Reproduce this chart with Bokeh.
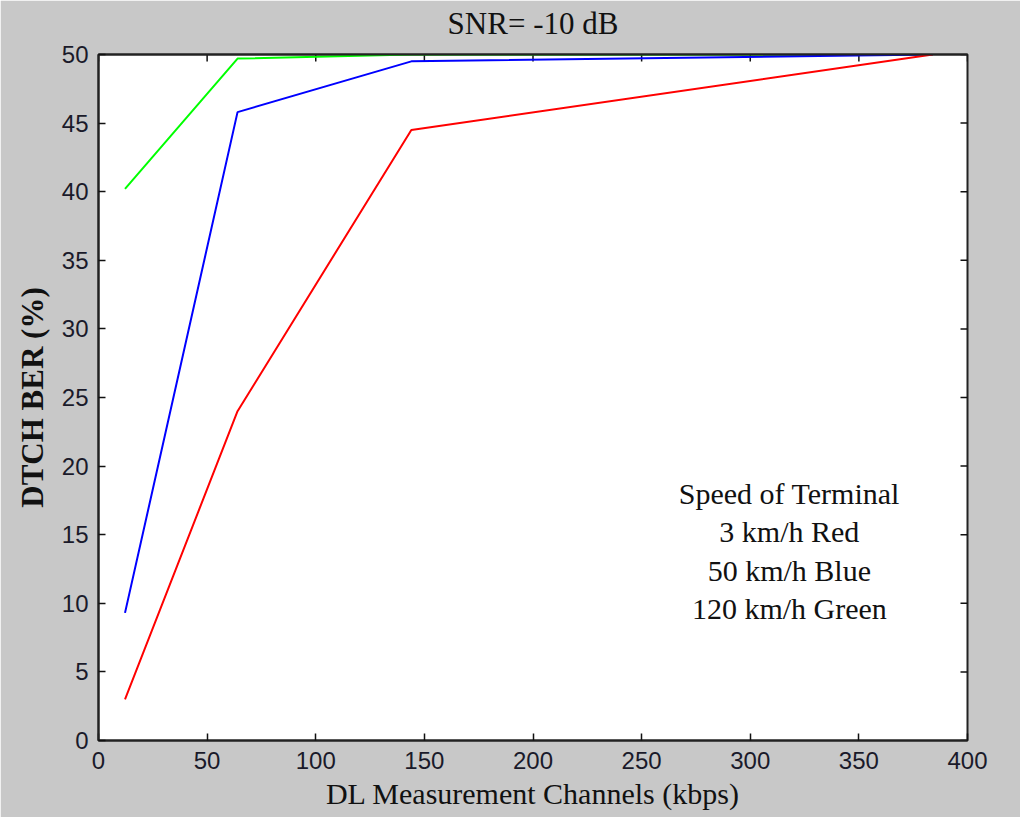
import math
from bokeh.plotting import figure
from bokeh.models import Range1d, SingleIntervalTicker, FixedTicker, Label, LinearAxis
from bokeh.embed import file_html
from bokeh.resources import INLINE

# Data
rates_kbps = [12.2, 64, 144, 384]
ber_3kmh = [3.0, 24.0, 44.5, 50.0]      # red
ber_50kmh = [9.3, 45.8, 49.5, 50.0]     # blue
ber_120kmh = [40.2, 49.7, 50.0, 50.0]   # green

x_ticks = [0, 50, 100, 150, 200, 250, 300, 350, 400]
y_ticks = [0, 5, 10, 15, 20, 25, 30, 35, 40, 45, 50]

title_text = "SNR= -10 dB"
x_label = "DL Measurement Channels (kbps)"
y_label = "DTCH BER (%)"
note_lines = ["Speed of Terminal", "3 km/h Red", "50 km/h Blue", "120 km/h Green"]

BG = "#c8c8c8"
SANS = "Liberation Sans"
SERIF = "Liberation Serif"

p = figure(width=1020, height=817, output_backend="svg", toolbar_location=None,
           x_range=Range1d(0, 400), y_range=Range1d(0, 50),
           frame_width=869, frame_height=686,
           min_border_left=98, min_border_right=53, min_border_top=54, min_border_bottom=77,
           background_fill_color="white", border_fill_color=BG)

x_axis = p.below[0]
y_axis = p.left[0]

p.outline_line_color = "#222222"
p.outline_line_width = 2
p.xgrid.visible = False
p.ygrid.visible = False

for ax, interval in ((x_axis, 50), (y_axis, 5)):
    ax.ticker = SingleIntervalTicker(interval=interval)
    ax.minor_tick_line_color = None
    ax.major_tick_in = 7
    ax.major_tick_out = 0
    ax.major_tick_line_color = "#111111"
    ax.major_tick_line_width = 1.5
    ax.axis_line_color = "#222222"
    ax.axis_line_width = 2
    ax.major_label_text_font = SANS
    ax.major_label_text_font_size = "24px"
    ax.major_label_text_color = "#1a1a2a"

x_axis.major_label_standoff = 7
y_axis.major_label_standoff = 6

x_axis.axis_label = x_label
x_axis.axis_label_text_font = SERIF
x_axis.axis_label_text_font_size = "30px"
x_axis.axis_label_text_font_style = "normal"
x_axis.axis_label_text_color = "#111111"
x_axis.axis_label_standoff = 5

y_axis.axis_label = y_label
y_axis.axis_label_text_font = SERIF
y_axis.axis_label_text_font_size = "31px"
y_axis.axis_label_text_font_style = "bold"
y_axis.axis_label_text_color = "#111111"
y_axis.axis_label_standoff = 9

# title: label of a tick-less axis along the top of the box
top_ax = LinearAxis(ticker=FixedTicker(ticks=[]), axis_label=title_text)
top_ax.minor_tick_line_color = None
top_ax.major_tick_line_color = None
top_ax.axis_line_color = "#222222"
top_ax.axis_line_width = 2
top_ax.axis_label_text_font = SERIF
top_ax.axis_label_text_font_size = "31px"
top_ax.axis_label_text_font_style = "normal"
top_ax.axis_label_text_color = "#111111"
top_ax.axis_label_standoff = 14
p.add_layout(top_ax, "above")

# inward ticks on the top and right edges of the box
p.ray(x=x_ticks, y=50, length=7, length_units="screen", angle=-math.pi / 2,
      line_color="#111111", line_width=1.5)
p.ray(x=400, y=y_ticks, length=7, length_units="screen", angle=math.pi,
      line_color="#111111", line_width=1.5)

p.line(rates_kbps, ber_120kmh, line_color="#00ff00", line_width=2)
p.line(rates_kbps, ber_50kmh, line_color="#0000ff", line_width=2)
p.line(rates_kbps, ber_3kmh, line_color="#ff0000", line_width=2)

note_y = [18.0, 15.2, 12.4, 9.6]
for txt, yy in zip(note_lines, note_y):
    p.add_layout(Label(x=318, y=yy, text=txt, text_font=SERIF, text_font_size="30px",
                       text_align="center", text_baseline="middle", text_color="#111111"))

open("out.html", "w").write(file_html(p, INLINE))
